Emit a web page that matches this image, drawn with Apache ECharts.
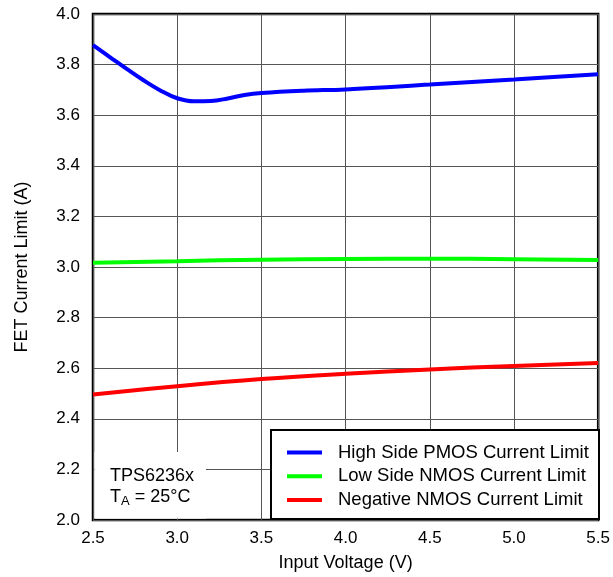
<!DOCTYPE html>
<html>
<head>
<meta charset="utf-8">
<script src="https://cdn.jsdelivr.net/npm/echarts@6/dist/echarts.min.js"></script>
<style>
  html, body { margin: 0; padding: 0; background: #fff; }
  #chart { width: 613px; height: 577px; }
</style>
</head>
<body>
<div id="chart"></div>
<script>
// values (V, A)
const highSidePmos = [
  [2.5, 3.877], [2.6, 3.830], [2.7, 3.783], [2.8, 3.738], [2.9, 3.698],
  [3.0, 3.667], [3.1, 3.655], [3.2, 3.656], [3.3, 3.666], [3.4, 3.680],
  [3.5, 3.688], [3.75, 3.697], [4.0, 3.702], [4.5, 3.721], [5.0, 3.741], [5.5, 3.762]
]
const lowSideNmos = [
  [2.5, 3.017], [3.0, 3.023], [3.5, 3.029], [4.0, 3.032], [4.5, 3.033], [5.0, 3.031], [5.5, 3.028]
]
const negativeNmos = [
  [2.5, 2.496], [3.0, 2.529], [3.5, 2.557], [4.0, 2.578], [4.5, 2.595], [5.0, 2.609], [5.5, 2.621]
]
const seriesNames = ['High Side PMOS Current Limit', 'Low Side NMOS Current Limit', 'Negative NMOS Current Limit']
const seriesColors = ['#0000ff', '#00ff00', '#ff0000']

const font = '"Liberation Sans", Arial, sans-serif'
const myChart = echarts.init(document.getElementById('chart'))

const serialList = [highSidePmos, lowSideNmos, negativeNmos].map((data, i) => ({
  name: seriesNames[i],
  type: 'line',
  data: data,
  smooth: 0.4,
  showSymbol: false,
  z: 2,
  lineStyle: { width: 4, color: seriesColors[i] },
  itemStyle: { color: seriesColors[i] }
}))

let option = {
  animation: false,
  grid: {
    left: 93, right: 14, top: 14, bottom: 57,
    show: true, borderColor: '#000', borderWidth: 2.5
  },
  xAxis: {
    type: 'value',
    min: 2.5, max: 5.5, interval: 0.5,
    name: 'Input Voltage (V)',
    nameLocation: 'middle', nameGap: 34,
    nameTextStyle: { fontFamily: font, fontSize: 18, color: '#000' },
    axisLine: { show: false },
    axisTick: { show: false },
    axisLabel: { fontFamily: font, fontSize: 17, color: '#000', margin: 10,
      formatter: v => v.toFixed(1) },
    splitLine: { lineStyle: { color: '#555', width: 1 } }
  },
  yAxis: {
    type: 'value',
    min: 2, max: 4, interval: 0.2,
    name: 'FET Current Limit (A)',
    nameLocation: 'middle', nameGap: 62,
    nameTextStyle: { fontFamily: font, fontSize: 18, color: '#000' },
    axisLine: { show: false },
    axisTick: { show: false },
    axisLabel: { fontFamily: font, fontSize: 17, color: '#000', margin: 13,
      formatter: v => v.toFixed(1) },
    splitLine: { lineStyle: { color: '#555', width: 1 } }
  },
  legend: {
    orient: 'vertical',
    left: 282, top: 438,
    itemWidth: 35, itemHeight: 4, itemGap: 4.7,
    icon: 'rect',
    data: seriesNames,
    textStyle: { fontFamily: font, fontSize: 18.5, color: '#000', padding: [0, 0, 0, 11] },
    z: 10
  },
  graphic: [
    { type: 'rect', z: 5, shape: { x: 94.5, y: 452, width: 111.5, height: 66.5 },
      style: { fill: '#fff' } },
    { type: 'rect', z: 5, shape: { x: 271, y: 430, width: 328, height: 89 },
      style: { fill: '#fff', stroke: '#000', lineWidth: 2 } },
    { type: 'text', z: 6, left: 110, top: 467,
      style: { text: 'TPS6236x', fontFamily: font, fontSize: 18, fill: '#000' } },
    { type: 'text', z: 6, left: 110, top: 488,
      style: {
        text: 'T{sub|A} = 25°C', fontFamily: font, fontSize: 18, fill: '#000',
        rich: { sub: { fontFamily: font, fontSize: 13, fill: '#000', padding: [9, 0, 0, 0] } }
      } }
  ],
  series: serialList
}

option && myChart.setOption(option)
</script>
</body>
</html>
